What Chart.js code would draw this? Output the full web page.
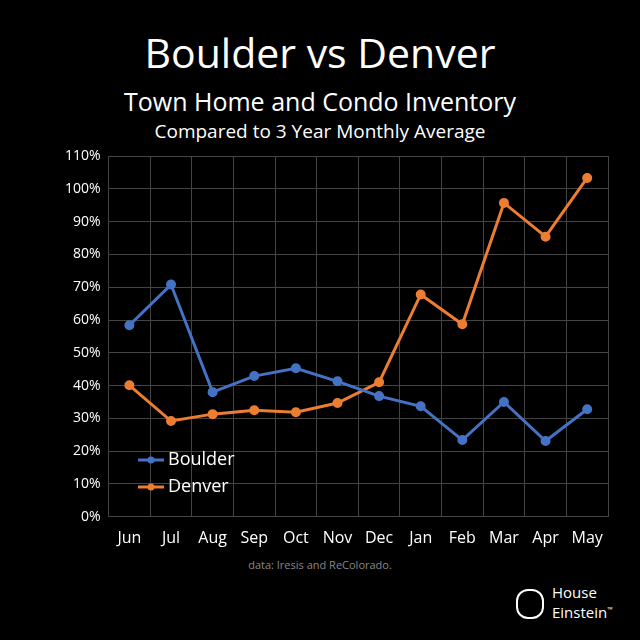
<!DOCTYPE html>
<html><head><meta charset="utf-8">
<script src="https://cdn.jsdelivr.net/npm/chart.js@4"></script>
<style>html,body{margin:0;background:#000;width:640px;height:640px;overflow:hidden}
#w{position:absolute;left:0;top:0;width:640px;height:640px}
.t{position:absolute;width:640px;text-align:center;color:#fff;font-family:"Open Sans",sans-serif}
</style></head><body>
<div class="t" style="top:24px;font-size:41px">Boulder vs Denver</div>
<div class="t" style="top:84px;font-size:25px">Town Home and Condo Inventory</div>
<div class="t" style="top:118px;font-size:19px">Compared to 3 Year Monthly Average</div>
<div class="t" style="top:557px;font-size:11px;color:#888">data: Iresis and ReColorado.</div>
<div style="position:absolute;left:552px;top:584px;color:#fff;font-family:'Open Sans',sans-serif;font-size:15px;line-height:17px">House<br>Einstein<sup style="font-size:7px">™</sup></div>
<div style="position:absolute;left:516px;top:589px;width:24px;height:26px;border:2px solid #fff;border-radius:12px"></div>
<div id="w"><canvas id="c" width="640" height="640"></canvas></div>
<script>
const categories=["Jun","Jul","Aug","Sep","Oct","Nov","Dec","Jan","Feb","Mar","Apr","May"];
const boulder=[58.4,70.8,38,42.9,45.3,41.3,36.8,33.7,23.4,35,23.1,32.8];
const denver=[40.1,29.2,31.3,32.5,31.9,34.7,41,67.8,58.7,95.7,85.4,103.3];
const lbl={id:'lg',afterDraw(ch){const c=ch.ctx;const items=[["Boulder","#4472C4",460],["Denver","#ED7D31",487]];
c.save();c.font='18px "Open Sans",sans-serif';c.textBaseline='middle';
for(const [n,col,y] of items){c.strokeStyle=col;c.fillStyle=col;c.lineWidth=3;c.beginPath();c.moveTo(138,y);c.lineTo(164,y);c.stroke();
c.beginPath();c.arc(151,y,3.5,0,7);c.fill();c.fillStyle='#fff';c.fillText(n,168,y);}c.restore();}};
new Chart(document.getElementById('c'),{type:'line',
data:{labels:categories,datasets:[
{label:'Boulder',data:boulder,borderColor:'#4472C4',backgroundColor:'#4472C4',borderWidth:3,pointRadius:3.5},
{label:'Denver',data:denver,borderColor:'#ED7D31',backgroundColor:'#ED7D31',borderWidth:3,pointRadius:3.5}]},
options:{responsive:false,animation:false,
layout:{padding:{left:57,right:32,top:156,bottom:80}},
plugins:{legend:{display:false},tooltip:{enabled:false}},
scales:{x:{offset:true,grid:{color:'#444',offset:true,drawTicks:false},border:{color:'#444'},ticks:{color:'#fff',font:{size:16,family:'Open Sans'},padding:12}},
y:{min:0,max:110,grid:{color:'#444',drawTicks:false},border:{color:'#444'},ticks:{stepSize:10,color:'#fff',font:{size:14,family:'Open Sans'},padding:8,callback:v=>v+'%'}}}},
plugins:[lbl]});
</script></body></html>
